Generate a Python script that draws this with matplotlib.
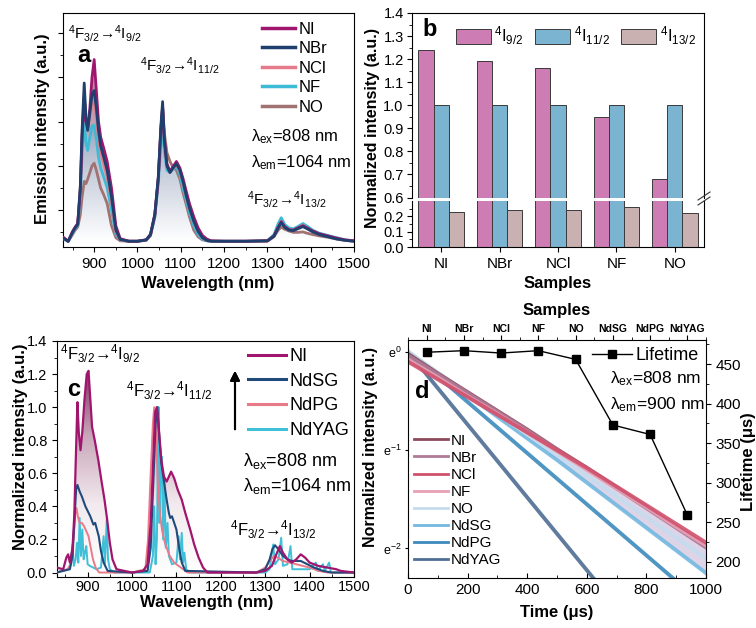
import numpy as np
import matplotlib
matplotlib.use("Agg")
import matplotlib.pyplot as plt
from matplotlib.colors import LinearSegmentedColormap
from matplotlib.lines import Line2D

plt.rcParams['font.family'] = ['Liberation Sans', 'DejaVu Sans']
plt.rcParams['mathtext.fontset'] = 'custom'
plt.rcParams['mathtext.rm'] = 'Liberation Sans'
plt.rcParams['mathtext.it'] = 'Liberation Sans:italic'
plt.rcParams['mathtext.bf'] = 'Liberation Sans:bold'
plt.rcParams['xtick.labelsize'] = 11
plt.rcParams['ytick.labelsize'] = 11
plt.rcParams['axes.linewidth'] = 0.8

# ---------------- panel a : emission spectra (a.u.) ----------------
wl_a = [830, 840, 850, 856, 862, 868, 872, 877, 881, 885, 890, 895, 900, 905, 910, 915, 922, 930, 940, 950,
        960, 980, 1000, 1020, 1030, 1040, 1048, 1054, 1058, 1062, 1068, 1075, 1082, 1090, 1098, 1105, 1112, 1120, 1130, 1140,
        1150, 1160, 1170, 1200, 1250, 1300, 1315, 1325, 1332, 1340, 1350, 1360, 1370, 1382, 1392, 1405, 1420, 1440, 1460, 1480,
        1500]
ni_a = [0.38, 0.30, 0.52, 0.62, 0.70, 1.45, 2.6, 3.55, 3.0, 2.85, 3.3, 4.0, 4.4, 3.7, 3.0, 2.65, 2.4, 2.1, 1.5, 0.65,
        0.36, 0.30, 0.30, 0.33, 0.45, 0.9, 1.7, 2.8, 3.3, 2.6, 2.05, 1.88, 1.98, 2.1, 1.95, 1.72, 1.45, 1.15, 0.85, 0.6,
        0.43, 0.35, 0.31, 0.30, 0.30, 0.31, 0.42, 0.62, 0.74, 0.63, 0.56, 0.55, 0.60, 0.65, 0.60, 0.53, 0.47, 0.42, 0.37, 0.33,
        0.31]
nbr_a = [0.36, 0.30, 0.50, 0.60, 0.68, 1.55, 2.8, 3.87, 3.1, 2.8, 3.2, 3.6, 3.7, 3.3, 2.8, 2.45, 2.2, 1.9, 1.3, 0.55,
         0.34, 0.30, 0.30, 0.33, 0.45, 0.9, 1.75, 2.9, 3.45, 2.6, 2.0, 1.85, 1.95, 2.05, 1.9, 1.65, 1.35, 1.05, 0.75, 0.52,
         0.38, 0.32, 0.30, 0.30, 0.30, 0.31, 0.41, 0.60, 0.72, 0.61, 0.55, 0.54, 0.58, 0.63, 0.58, 0.51, 0.45, 0.40, 0.35, 0.32,
         0.30]
ncl_a = [0.37, 0.30, 0.50, 0.61, 0.69, 1.5, 2.7, 3.6, 3.05, 2.9, 3.15, 3.45, 3.5, 3.1, 2.6, 2.3, 2.05, 1.75, 1.2, 0.5,
         0.33, 0.30, 0.30, 0.33, 0.45, 0.9, 1.7, 2.8, 3.35, 2.55, 2.0, 1.86, 1.95, 2.02, 1.88, 1.62, 1.35, 1.05, 0.75, 0.52,
         0.38, 0.32, 0.30, 0.30, 0.30, 0.31, 0.42, 0.62, 0.75, 0.63, 0.56, 0.55, 0.60, 0.66, 0.60, 0.52, 0.46, 0.41, 0.36, 0.32,
         0.30]
nf_a = [0.36, 0.29, 0.48, 0.58, 0.66, 1.3, 2.3, 3.15, 2.5, 2.35, 2.65, 2.9, 2.92, 2.6, 2.2, 1.95, 1.75, 1.5, 1.0, 0.45,
        0.33, 0.30, 0.30, 0.33, 0.44, 0.85, 1.6, 2.5, 2.89, 2.35, 1.9, 1.85, 1.93, 1.98, 1.8, 1.5, 1.25, 0.95, 0.65, 0.45,
        0.35, 0.31, 0.30, 0.30, 0.30, 0.31, 0.45, 0.70, 0.83, 0.68, 0.60, 0.58, 0.63, 0.70, 0.64, 0.55, 0.48, 0.43, 0.38, 0.33,
        0.31]
no_a = [0.35, 0.30, 0.45, 0.55, 0.62, 0.9, 1.3, 1.65, 1.6, 1.7, 1.85, 2.0, 2.06, 1.9, 1.7, 1.5, 1.35, 1.15, 0.65, 0.38,
        0.31, 0.30, 0.30, 0.32, 0.42, 0.85, 1.7, 2.8, 3.34, 2.75, 2.3, 2.1, 1.97, 1.9, 1.7, 1.4, 1.15, 0.85, 0.55, 0.40,
        0.33, 0.31, 0.30, 0.30, 0.30, 0.30, 0.40, 0.55, 0.62, 0.57, 0.53, 0.50, 0.50, 0.51, 0.48, 0.45, 0.42, 0.39, 0.35, 0.32,
        0.30]

# ---------------- panel b : normalized peak intensities ----------------
samples_b = ['NI', 'NBr', 'NCl', 'NF', 'NO']
i92 = [1.24, 1.19, 1.16, 0.95, 0.68]
i112 = [1.0, 1.0, 1.0, 1.0, 1.0]
i132 = [0.23, 0.24, 0.24, 0.26, 0.22]

# ---------------- panel c : normalized spectra vs references ----------------
wl_ni_c = [830, 845, 852, 856, 860, 866, 870, 874, 877, 880, 884, 888, 893, 898, 902, 906, 910, 916, 924, 932,
           938, 944, 950, 956, 965, 1000, 1025, 1035, 1042, 1048, 1052, 1056, 1061, 1066, 1072, 1078, 1083, 1088, 1095, 1103,
           1112, 1120, 1131, 1140, 1150, 1160, 1170, 1280, 1300, 1315, 1325, 1333, 1340, 1350, 1360, 1370, 1380, 1390, 1400, 1420,
           1440, 1460, 1470, 1500]
ni_c = [0.03, 0.02, 0.09, 0.11, 0.06, 0.15, 0.35, 0.75, 1.03, 0.85, 0.74, 0.85, 1.05, 1.2, 1.22, 1.05, 0.88, 0.80, 0.68, 0.54,
        0.44, 0.32, 0.18, 0.08, 0.02, 0.0, 0.01, 0.05, 0.3, 0.7, 0.97, 1.0, 0.85, 0.68, 0.58, 0.55, 0.58, 0.61, 0.57, 0.50,
        0.44, 0.36, 0.26, 0.17, 0.09, 0.03, 0.0, 0.0, 0.01, 0.04, 0.11, 0.16, 0.12, 0.08, 0.06, 0.08, 0.11, 0.09, 0.06, 0.04,
        0.03, 0.02, 0.01, 0.0]
wl_sg_c = [830, 860, 866, 870, 874, 877, 882, 887, 895, 906, 913, 917, 925, 930, 936, 945, 1000, 1035, 1042, 1048,
           1053, 1057, 1062, 1066, 1072, 1078, 1083, 1086, 1090, 1095, 1100, 1106, 1112, 1120, 1280, 1300, 1310, 1316, 1322, 1330,
           1340, 1350, 1360, 1380, 1395, 1410, 1430, 1450, 1500]
sg_c = [0.0, 0.02, 0.1, 0.3, 0.5, 0.53, 0.49, 0.46, 0.40, 0.34, 0.29, 0.30, 0.22, 0.13, 0.06, 0.01, 0.0, 0.01, 0.15, 0.55,
        0.9, 1.0, 0.8, 0.66, 0.55, 0.44, 0.36, 0.33, 0.34, 0.30, 0.26, 0.15, 0.06, 0.01, 0.0, 0.02, 0.08, 0.14, 0.165, 0.14,
        0.10, 0.08, 0.07, 0.07, 0.05, 0.03, 0.01, 0.0, 0.0]
wl_pg_c = [830, 855, 862, 868, 872, 875, 878, 882, 887, 892, 897, 902, 907, 912, 918, 926, 1000, 1030, 1036, 1042,
           1047, 1050, 1054, 1058, 1063, 1068, 1075, 1085, 1095, 1105, 1115, 1125, 1280, 1300, 1310, 1320, 1328, 1340, 1355, 1370,
           1385, 1400, 1420, 1440, 1500]
pg_c = [0.0, 0.02, 0.05, 0.2, 0.35, 0.39, 0.34, 0.30, 0.30, 0.28, 0.25, 0.22, 0.15, 0.08, 0.03, 0.0, 0.0, 0.02, 0.2, 0.6,
        0.9, 1.0, 0.85, 0.55, 0.35, 0.25, 0.17, 0.10, 0.06, 0.04, 0.02, 0.0, 0.0, 0.03, 0.07, 0.10, 0.09, 0.07, 0.06, 0.05,
        0.04, 0.03, 0.01, 0.0, 0.0]
wl_yag_c = [830, 855, 862, 866, 869, 873, 876, 879, 882, 885, 888, 891, 894, 897, 900, 905, 920, 930, 936, 939,
            943, 946, 950, 960, 1040, 1047, 1050, 1053, 1056, 1058, 1060, 1062, 1064, 1067, 1070, 1073, 1076, 1080, 1083, 1090,
            1100, 1105, 1108, 1112, 1115, 1118, 1122, 1130, 1300, 1310, 1318, 1322, 1330, 1336, 1340, 1350, 1357, 1361, 1380, 1400,
            1414, 1418, 1430, 1434, 1444, 1448, 1500]
yag_c = [0.0, 0.02, 0.05, 0.17, 0.04, 0.08, 0.18, 0.06, 0.33, 0.10, 0.26, 0.08, 0.12, 0.16, 0.05, 0.04, 0.02, 0.03, 0.22, 0.05,
         0.32, 0.08, 0.02, 0.0, 0.0, 0.1, 0.4, 0.05, 0.2, 0.62, 1.0, 0.3, 0.6, 0.70, 0.2, 0.55, 0.15, 0.3, 0.1, 0.05,
         0.06, 0.22, 0.08, 0.24, 0.06, 0.12, 0.02, 0.0, 0.0, 0.02, 0.17, 0.05, 0.08, 0.21, 0.04, 0.05, 0.16, 0.02, 0.02, 0.02,
         0.06, 0.01, 0.05, 0.01, 0.06, 0.0, 0.0]

# ---------------- panel d : decay curves (ln of normalized intensity) and lifetimes ----------------
t_decay = [0, 100, 200, 300, 400, 500, 600, 700, 800, 900, 1000]
ln_ni = [-0.02, -0.22, -0.41, -0.60, -0.79, -0.99, -1.18, -1.38, -1.58, -1.78, -1.98]
ln_nbr = [-0.04, -0.23, -0.42, -0.61, -0.80, -1.00, -1.19, -1.39, -1.59, -1.79, -1.99]
ln_ncl = [-0.10, -0.28, -0.46, -0.64, -0.82, -1.00, -1.18, -1.37, -1.56, -1.75, -1.94]
ln_nf = [-0.08, -0.26, -0.45, -0.63, -0.82, -1.01, -1.20, -1.39, -1.58, -1.78, -1.97]
ln_no = [0.0, -0.21, -0.42, -0.63, -0.84, -1.05, -1.26, -1.47, -1.68, -1.89, -2.10]
ln_sg = [0.0, -0.22, -0.44, -0.66, -0.88, -1.10, -1.33, -1.56, -1.79, -2.02, -2.25]
ln_pg = [0.0, -0.25, -0.51, -0.77, -1.03, -1.29, -1.55, -1.81, -2.07, -2.33, -2.59]
ln_yag = [0.0, -0.37, -0.74, -1.11, -1.48, -1.85, -2.22, -2.59, -2.96, -3.33, -3.70]
samples_d = ['NI', 'NBr', 'NCl', 'NF', 'NO', 'NdSG', 'NdPG', 'NdYAG']
lifetime = [465, 467, 464, 467, 456, 373, 361, 259]

W, H = 756, 628


def box(l, t, r, b):
    return [l / W, 1 - b / H, (r - l) / W, (b - t) / H]


def ftext(x, y, s, **kw):
    fig.text(x / W, 1 - y / H, s, **kw)


def grad_under(ax, x, y, colors, ylo, yhi, z=1):
    poly = ax.fill_between(x, y, ylo, facecolor='none', edgecolor='none')
    cmap = LinearSegmentedColormap.from_list('g', colors)
    im = ax.imshow(np.linspace(0, 1, 256).reshape(-1, 1), cmap=cmap, aspect='auto',
                   extent=[min(x), max(x), ylo, yhi], origin='lower', zorder=z)
    im.set_clip_path(poly.get_paths()[0], transform=ax.transData)


fig = plt.figure(figsize=(W / 100, H / 100), dpi=100)

# ================= a =================
axa = fig.add_axes(box(63, 13, 354, 247))
col_a = {'NI': '#A0166E', 'NBr': '#1F3F6E', 'NCl': '#E47A8A', 'NF': '#3DBAD6', 'NO': '#A07272'}
grad_under(axa, wl_a, ni_a, ['#FFFFFF', '#B4BDD0', '#4A5C86'], 0.3, 4.4)
axa.fill_between(wl_a, nf_a, ni_a, color='#E8A0AE', alpha=0.6, lw=0, zorder=2)
for name, y in [('NO', no_a), ('NF', nf_a), ('NCl', ncl_a), ('NI', ni_a), ('NBr', nbr_a)]:
    axa.plot(wl_a, y, color=col_a[name], lw=2.0, zorder=3)
axa.set_xlim(828, 1500)
axa.set_ylim(0.17, 5.45)
axa.set_xticks([900, 1000, 1100, 1200, 1300, 1400, 1500])
axa.set_xticks(np.arange(850, 1500, 100), minor=True)
axa.set_yticks([1, 2, 3, 4, 5])
axa.set_yticks([0.5, 1.5, 2.5, 3.5, 4.5], minor=True)
axa.set_yticklabels([])
hand_a = [Line2D([], [], color=col_a[n], lw=2.5) for n in ['NI', 'NBr', 'NCl', 'NF', 'NO']]
axa.legend(hand_a, ['NI', 'NBr', 'NCl', 'NF', 'NO'], loc='upper left', bbox_to_anchor=(0.665, 0.985),
           frameon=False, fontsize=12, handlelength=2.0, handletextpad=0.2, labelspacing=0.27,
           borderaxespad=0.2, borderpad=0.1)
ftext(68, 33, '$^4$F$_{3/2}$→$^4$I$_{9/2}$', fontsize=11, va='center')
ftext(77, 56, 'a', fontsize=17, fontweight='bold', va='center')
ftext(140, 65, '$^4$F$_{3/2}$→$^4$I$_{11/2}$', fontsize=11, va='center')
ftext(247, 200, '$^4$F$_{3/2}$→$^4$I$_{13/2}$', fontsize=11, va='center')
ftext(251, 137, 'λ$_{\\mathrm{ex}}$=808 nm', fontsize=12, va='center')
ftext(251, 163, 'λ$_{\\mathrm{em}}$=1064 nm', fontsize=12, va='center')
ftext(43, 129, 'Emission intensity (a.u.)', fontsize=12, fontweight='bold', rotation=90, ha='center', va='center')
ftext(208, 283, 'Wavelength (nm)', fontsize=12, fontweight='bold', ha='center', va='center')

# ================= b =================
axbu = fig.add_axes(box(412, 13, 704, 197.5))
axbl = fig.add_axes(box(412, 201, 704, 247))
xb = np.arange(len(samples_b))
bw = 0.26
for ax in (axbu, axbl):
    ax.bar(xb - bw, i92, bw, color='#CD7DB3', edgecolor='#3A3A3A', lw=0.7)
    ax.bar(xb, i112, bw, color='#7BB4D1', edgecolor='#3A3A3A', lw=0.7)
    ax.bar(xb + bw, i132, bw, color='#C8B1B0', edgecolor='#3A3A3A', lw=0.7)
    ax.set_xlim(-0.5, 4.5)
    ax.tick_params(axis='y', which='both', labelsize=10.5, pad=2.5)
axbu.set_ylim(0.6, 1.4)
axbu.set_yticks(np.arange(0.6, 1.41, 0.1))
axbu.set_yticks(np.arange(0.65, 1.4, 0.1), minor=True)
axbu.set_yticklabels(['%.1f' % v for v in np.arange(0.6, 1.41, 0.1)])
axbu.set_xticks([])
axbu.spines['bottom'].set_visible(False)
axbl.set_ylim(0, 0.30)
axbl.set_yticks([0.0, 0.1, 0.2])
axbl.set_yticks([0.05, 0.15, 0.25], minor=True)
axbl.set_yticklabels(['0.0', '0.1', '0.2'])
axbl.spines['top'].set_visible(False)
axbl.set_xticks(xb)
axbl.set_xticklabels(samples_b)
for dy in (-3, 2):
    fig.add_artist(Line2D([(704 - 6) / W, (704 + 6) / W], [1 - (199 + dy + 4) / H, 1 - (199 + dy - 4) / H],
                          color='#333333', lw=0.8))
hb = [plt.Rectangle((0, 0), 1, 1, fc=c, ec='#3A3A3A', lw=0.7) for c in ['#CD7DB3', '#7BB4D1', '#C8B1B0']]
axbu.legend(hb, ['$^4$I$_{9/2}$', '$^4$I$_{11/2}$', '$^4$I$_{13/2}$'], loc='upper left',
            bbox_to_anchor=(0.11, 1.0), ncol=3, frameon=False, fontsize=12, handlelength=2.1,
            handleheight=1.0, handletextpad=0.2, columnspacing=0.7, borderaxespad=0.3)
ftext(430, 30, 'b', fontsize=17, fontweight='bold', ha='center', va='center')
ftext(372, 128, 'Normalized intensity (a.u.)', fontsize=11.5, fontweight='bold', rotation=90, ha='center', va='center')
ftext(558, 283, 'Samples', fontsize=12, fontweight='bold', ha='center', va='center')

# ================= c =================
axc = fig.add_axes(box(57, 341, 354, 577))
grad_under(axc, wl_ni_c, ni_c, ['#FFFFFF', '#F2EAEE', '#C9A6B9', '#7A2A5E'], 0.0, 1.25)
axc.plot(wl_yag_c, yag_c, color='#40C0D8', lw=1.4, zorder=3)
axc.plot(wl_pg_c, pg_c, color='#E87A8A', lw=1.4, zorder=3)
axc.plot(wl_sg_c, sg_c, color='#1F4A7A', lw=1.5, zorder=3)
axc.plot(wl_ni_c, ni_c, color='#A0166E', lw=1.6, zorder=4)
axc.set_xlim(831, 1500)
axc.set_ylim(-0.027, 1.4)
axc.set_xticks([900, 1000, 1100, 1200, 1300, 1400, 1500])
axc.set_xticks(np.arange(850, 1500, 100), minor=True)
axc.set_yticks(np.arange(0, 1.41, 0.2))
axc.set_yticklabels(['%.1f' % v for v in np.arange(0, 1.41, 0.2)])
axc.set_yticks(np.arange(0.1, 1.4, 0.2), minor=True)
axc.tick_params(axis='x', which='both', direction='in', pad=2, labelsize=10.5)
axc.tick_params(axis='y', labelsize=10.5)
hand_c = [Line2D([], [], color=c, lw=2.2) for c in ['#A0166E', '#1F4A7A', '#E87A8A', '#40C0D8']]
axc.legend(hand_c, ['NI', 'NdSG', 'NdPG', 'NdYAG'], loc='upper left', bbox_to_anchor=(0.62, 1.0),
           frameon=False, fontsize=13, handlelength=2.1, handletextpad=0.2, labelspacing=0.42,
           borderaxespad=0.2, borderpad=0.2)
fig.add_artist(plt.annotate('', xy=(235 / W, 1 - 368 / H), xytext=(235 / W, 1 - 432 / H),
                            xycoords='figure fraction', textcoords='figure fraction',
                            arrowprops=dict(arrowstyle='-|>', color='black', lw=1.5, mutation_scale=14)))
ftext(60, 354, '$^4$F$_{3/2}$→$^4$I$_{9/2}$', fontsize=12, va='center')
ftext(74, 389, 'c', fontsize=17, fontweight='bold', ha='center', va='center')
ftext(126, 391, '$^4$F$_{3/2}$→$^4$I$_{11/2}$', fontsize=12, va='center')
ftext(230, 530, '$^4$F$_{3/2}$→$^4$I$_{13/2}$', fontsize=12, va='center')
ftext(243, 461, 'λ$_{\\mathrm{ex}}$=808 nm', fontsize=13, va='center')
ftext(243, 486, 'λ$_{\\mathrm{em}}$=1064 nm', fontsize=13, va='center')
ftext(21, 447, 'Normalized intensity (a.u.)', fontsize=12, fontweight='bold', rotation=90, ha='center', va='center')
ftext(207, 602, 'Wavelength (nm)', fontsize=12, fontweight='bold', ha='center', va='center')

# ================= d =================
axd = fig.add_axes(box(408, 340, 706, 578))
col_d = ['#8C4A5C', '#B07A98', '#D0506C', '#E8A0B4', '#C4DCEE', '#72B8E0', '#3D8BBD', '#4E6E94']
curves_d = [ln_ni, ln_nbr, ln_ncl, ln_nf, ln_no, ln_sg, ln_pg, ln_yag]
axd.fill_between(t_decay, ln_sg, ln_ncl, color='#B4A0CC', alpha=0.45, lw=0, zorder=1)
order = [7, 6, 5, 4, 0, 1, 3, 2]
for k in order:
    axd.plot(t_decay, curves_d[k], color=col_d[k], lw=2.8, alpha=0.9, zorder=2)
axd.set_xlim(0, 1000)
axd.set_ylim(-2.30, 0.12)
axd.set_xticks([0, 200, 400, 600, 800, 1000])
axd.set_xticks([100, 300, 500, 700, 900], minor=True)
axd.tick_params(axis='x', which='both', direction='in')
axd.set_yticks([0, -1, -2])
axd.set_yticklabels(['e$^{0}$', 'e$^{-1}$', 'e$^{-2}$'], fontsize=9)
axd.tick_params(axis='y', length=2.5, pad=2)
hand_d = [Line2D([], [], color=c, lw=2.0) for c in col_d]
axd.legend(hand_d, samples_d, loc='lower left', bbox_to_anchor=(0.0, 0.02), frameon=False, fontsize=11,
           handlelength=2.2, handletextpad=0.2, labelspacing=0.2, borderaxespad=0.2, borderpad=0.2)
ftext(422, 392, 'd', fontsize=17, fontweight='bold', ha='center', va='center')

axl = fig.add_axes(box(408, 340, 706, 578), frameon=False)
axl.patch.set_visible(False)
axl.plot(np.arange(len(samples_d)), lifetime, color='black', lw=1.0, marker='s', ms=6, label='Lifetime')
axl.set_xlim(-0.5, 7.5)
axl.set_ylim(179.5, 480.5)
axl.xaxis.tick_top()
axl.yaxis.tick_right()
axl.set_xticks(np.arange(len(samples_d)))
axl.set_xticks(np.arange(-0.5, 7.6, 1.0), minor=True)
axl.set_xticklabels(samples_d, fontsize=7.5, fontweight='bold')
axl.tick_params(axis='x', which='major', pad=1)
axl.set_yticks([200, 250, 300, 350, 400, 450])
axl.set_yticks([225, 275, 325, 375, 425, 475], minor=True)
axl.legend(loc='upper right', frameon=False, fontsize=13, handlelength=2.2, handletextpad=0.2,
           borderaxespad=0.2, borderpad=0.2)
ftext(610, 379, 'λ$_{\\mathrm{ex}}$=808 nm', fontsize=12.5, va='center')
ftext(610, 405, 'λ$_{\\mathrm{em}}$=900 nm', fontsize=12.5, va='center')
ftext(371, 447, 'Normalized intensity (a.u.)', fontsize=11.5, fontweight='bold', rotation=90, ha='center', va='center')
ftext(557, 613, 'Time (μs)', fontsize=12, fontweight='bold', ha='center', va='center')
ftext(557, 310, 'Samples', fontsize=12, fontweight='bold', ha='center', va='center')
ftext(749, 462, 'Lifetime (μs)', fontsize=12, fontweight='bold', rotation=90, ha='center', va='center')

fig.savefig('out.png', dpi=100)
